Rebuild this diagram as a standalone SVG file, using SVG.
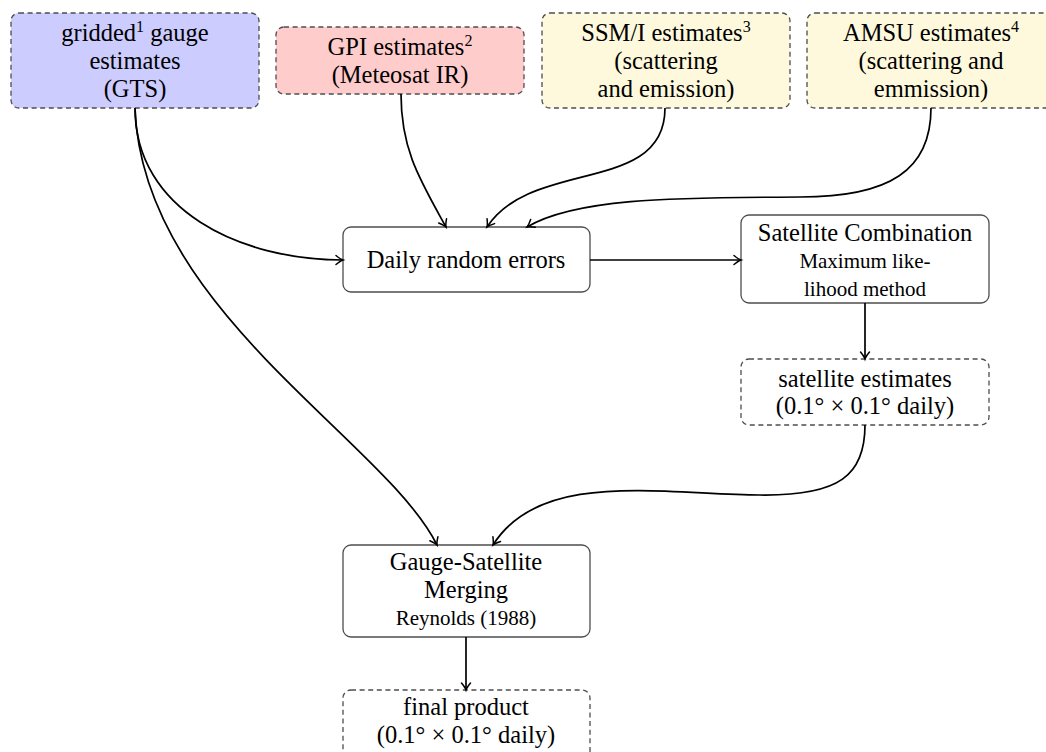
<svg xmlns="http://www.w3.org/2000/svg" width="1046" height="752" viewBox="0 0 1046 752">
<style>
.box{stroke:#4d4d4d;stroke-width:1.3}
.dash{stroke-dasharray:5,3.6}
text{font-family:"Liberation Serif","Times New Roman",serif;font-size:24.5px;fill:#000;text-anchor:middle}
.sm{font-size:21px}
.sup{font-size:16px}
.edge{fill:none;stroke:#000;stroke-width:1.7;marker-end:url(#arr)}
</style>
<defs>
<marker id="arr" markerUnits="userSpaceOnUse" markerWidth="14" markerHeight="14" viewBox="-10 -7 12 14" refX="0" refY="0" orient="auto">
<path d="M-7,-4.5 Q-2.5,-0.8 0,0 Q-2.5,0.8 -7,4.5" fill="none" stroke="#000" stroke-width="1.5" stroke-linecap="round"/>
</marker>
</defs>
<rect width="1046" height="752" fill="#fff"/>
<g id="gauge">
<rect class="box dash" x="11" y="13" width="248" height="95" rx="8" fill="#ccccff"/>
<text x="135" y="41">gridded<tspan class="sup" dy="-9">1</tspan><tspan dy="9"> gauge</tspan></text>
<text x="135" y="69">estimates</text>
<text x="135" y="97">(GTS)</text>
</g>
<g id="gpi">
<rect class="box dash" x="276" y="27" width="248" height="67" rx="8" fill="#ffcccc"/>
<text x="400" y="55">GPI estimates<tspan class="sup" dy="-9">2</tspan></text>
<text x="400" y="83">(Meteosat IR)</text>
</g>
<g id="ssmi">
<rect class="box dash" x="542" y="13" width="248" height="95" rx="8" fill="#fef9dc"/>
<text x="666" y="41">SSM/I estimates<tspan class="sup" dy="-9">3</tspan></text>
<text x="666" y="69">(scattering</text>
<text x="666" y="97">and emission)</text>
</g>
<g id="amsu">
<rect class="box dash" x="807" y="13" width="248" height="95" rx="8" fill="#fef9dc"/>
<text x="931" y="41">AMSU estimates<tspan class="sup" dy="-9">4</tspan></text>
<text x="931" y="69">(scattering and</text>
<text x="931" y="97">emmission)</text>
</g>
<g id="daily">
<rect class="box" x="343" y="227" width="247" height="65" rx="8" fill="#fff"/>
<text x="466" y="268">Daily random errors</text>
</g>
<g id="satcomb">
<rect class="box" x="741" y="215" width="248" height="88" rx="8" fill="#fff"/>
<text x="865" y="240.5">Satellite Combination</text>
<text class="sm" x="865" y="268">Maximum like-</text>
<text class="sm" x="865" y="296">lihood method</text>
</g>
<g id="satest">
<rect class="box dash" x="741" y="359" width="248" height="66" rx="8" fill="#fff"/>
<text x="865" y="387">satellite estimates</text>
<text x="865" y="414">(0.1° × 0.1° daily)</text>
</g>
<g id="merge">
<rect class="box" x="343" y="545" width="247" height="92" rx="8" fill="#fff"/>
<text x="466" y="570">Gauge-Satellite</text>
<text x="466" y="598">Merging</text>
<text class="sm" x="466" y="625">Reynolds (1988)</text>
</g>
<g id="final">
<rect class="box dash" x="343" y="690" width="247" height="80" rx="8" fill="#fff"/>
<text x="466" y="715">final product</text>
<text x="466" y="743">(0.1° × 0.1° daily)</text>
</g>
<g id="connectors">
<path class="edge" d="M135,108 C135,210 240,260 343,260"/>
<path class="edge" d="M135,108 C142,310 385,440 437,545"/>
<path class="edge" d="M401,94 C401,150 420,180 446,227"/>
<path class="edge" d="M665,108 C665,195 532,158 487,227"/>
<path class="edge" d="M931,108 C931,170 890,197 800,197 C700,198 580,195 527,227"/>
<path class="edge" d="M590,260 L741,260"/>
<path class="edge" d="M865,303 L865,359"/>
<path class="edge" d="M865,425 C865,475 840,496 760,495 C660,494 540,470 493,545"/>
<path class="edge" d="M466,637 L466,690"/>
</g>
</svg>
